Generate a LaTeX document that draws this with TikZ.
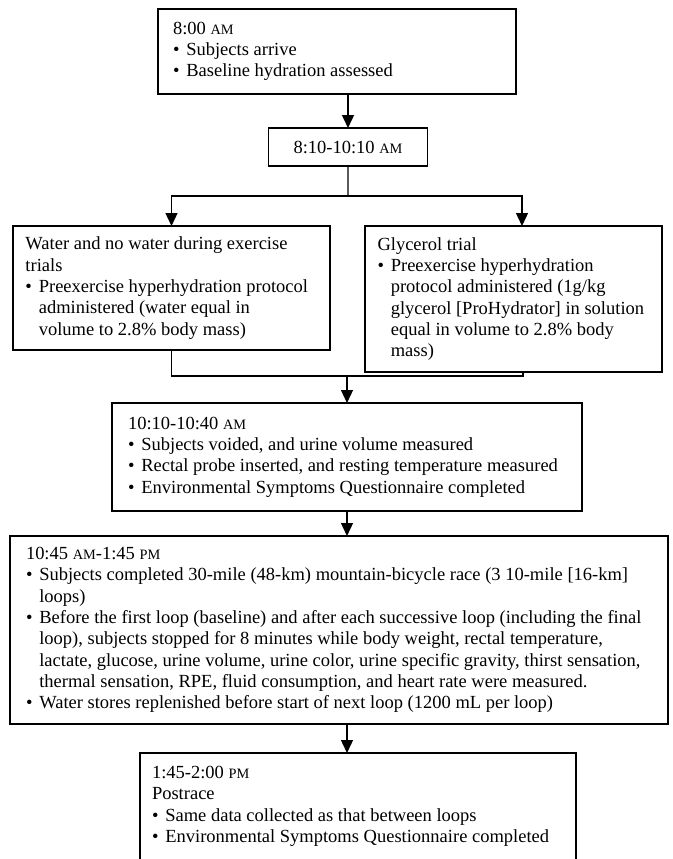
\documentclass[tikz,border=0pt]{standalone}
\usepackage{fontspec}
\setmainfont{Liberation Serif}
\usetikzlibrary{arrows.meta, positioning}
\tikzstyle{box}   = [draw, line width=0.8pt, anchor=north west, align=left, outer sep=0pt, inner ysep=2pt, font=\fontsize{11.1pt}{12.8pt}\selectfont, execute at begin node={\spaceskip=0pt\xspaceskip=0pt}]
\tikzstyle{arrow} = [line width=0.8pt, -{Triangle[width=7.2pt,length=7.8pt]}]
\tikzstyle{edge}  = [line width=0.8pt]
\newcommand{\smc}[1]{{\fontsize{8.6pt}{10pt}\selectfont #1}}
\newcommand{\itm}{\makebox[8pt][l]{\textbullet}}
\newcommand{\ind}{\hspace*{8pt}}

\begin{document}
\begin{tikzpicture}[x=0.6pt, y=-0.6pt]
\fill[white] (0,0) rectangle (672,859);
\useasboundingbox (0,0) rectangle (672,859);

% prichod
\node[box, text width=196.8pt, inner xsep=9pt, minimum height=51pt] (arrive) at (158,9)
  {8:00 \smc{AM}\\
   \itm Subjects arrive\\
   \itm Baseline hydration assessed};

% hydratace
\node[box, align=center, minimum width=95.4pt, minimum height=22.8pt] (slot) at (268.5,128)
  {8:10-10:10 \smc{AM}};

% dve vetve
\node[box, text width=175.2pt, inner xsep=7.5pt, minimum height=74.4pt] (water) at (13,226)
  {Water and no water during exercise\\
   trials\\
   \itm Preexercise hyperhydration protocol\\
   \ind administered (water equal in\\
   \ind volume to 2.8\% body mass)};
\node[box, text width=163.2pt, inner xsep=7.5pt, minimum height=87.6pt] (glycerol) at (365,226)
  {Glycerol trial\\
   \itm Preexercise hyperhydration\\
   \ind protocol administered (1g/kg\\
   \ind glycerol [ProHydrator] in solution\\
   \ind equal in volume to 2.8\% body\\
   \ind mass)};

% pred zavodem
\node[box, text width=262.8pt, inner xsep=9.6pt, minimum height=64.8pt] (rest) at (112,403)
  {10:10-10:40 \smc{AM}\\
   \itm Subjects voided, and urine volume measured\\
   \itm Rectal probe inserted, and resting temperature measured\\
   \itm Environmental Symptoms Questionnaire completed};

% zavod
\node[box, text width=375.6pt, inner xsep=9.6pt, minimum height=112.8pt] (race) at (10,536)
  {10:45 \smc{AM}-1:45 \smc{PM}\\
   \itm Subjects completed 30-mile (48-km) mountain-bicycle race (3 10-mile [16-km]\\
   \ind loops)\\
   \itm Before the first loop (baseline) and after each successive loop (including the final\\
   \ind loop), subjects stopped for 8 minutes while body weight, rectal temperature,\\
   \ind lactate, glucose, urine volume, urine color, urine specific gravity, thirst sensation,\\
   \ind thermal sensation, RPE, fluid consumption, and heart rate were measured.\\
   \itm Water stores replenished before start of next loop (1200 mL per loop)};

% po zavode
\node[box, text width=247.2pt, inner xsep=7.2pt, minimum height=74.4pt] (post) at (140,753)
  {1:45-2:00 \smc{PM}\\
   Postrace\\
   \itm Same data collected as that between loops\\
   \itm Environmental Symptoms Questionnaire completed\\
   \mbox{}};

% rozcesti
\coordinate (split) at (348,196);
\coordinate (gin) at (522,196);
\coordinate (gout) at (523,376);
\coordinate (join) at (348,376);

% hrany
\draw[arrow] (slot.north |- arrive.south) -- (slot.north);
\draw[edge] (slot.south) -- (split);
\draw[arrow] (split) -| (water.north);
\draw[arrow] (split) -| (glycerol.north -| gin);
\draw[edge] (water.south) |- (gout) -- (glycerol.south -| gout);
\draw[arrow] (rest.north |- join) -- (rest.north);
\draw[arrow] (rest.south) -- (rest.south |- race.north);
\draw[arrow] (race.south -| rest) -- (post.north -| rest);

\end{tikzpicture}
\end{document}
